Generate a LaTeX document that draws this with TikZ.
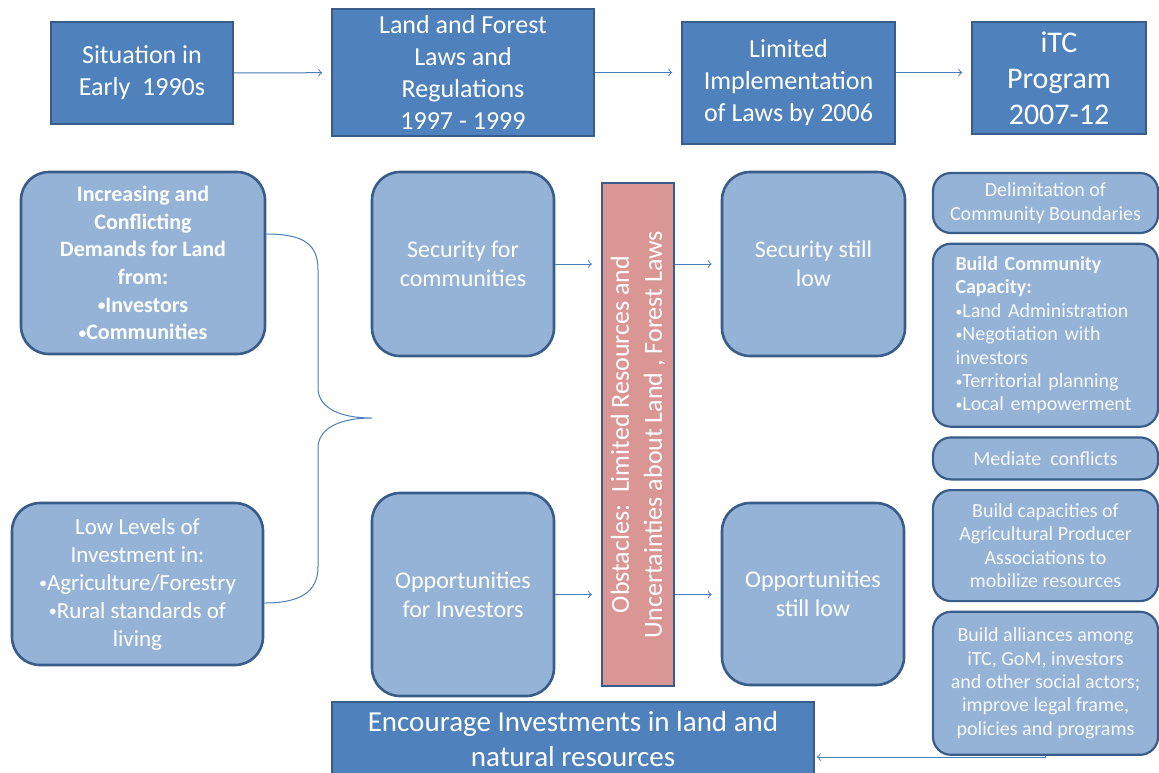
\documentclass[tikz,border=0pt]{standalone}
\usepackage{fontspec}
\setmainfont{Carlito}
\usetikzlibrary{positioning}
\definecolor{darkblue}{HTML}{4F81BD}
\definecolor{lightblue}{HTML}{95B3D7}
\definecolor{lineblue}{HTML}{385D8A}
\definecolor{arrowblue}{HTML}{4A7EBB}
\definecolor{salmon}{HTML}{D99694}
\newcommand{\bul}{\raisebox{0.12ex}{\scalebox{0.7}{•}}}
\tikzstyle{topbox} = [draw=lineblue, line width=0.8pt, fill=darkblue, text=white, align=center, font=\fontsize{13}{16}\selectfont]
\tikzstyle{roundbox} = [draw=lineblue, line width=1.3pt, fill=lightblue, text=white, rounded corners=14pt, align=center, font=\fontsize{12}{14.5}\selectfont]
\tikzstyle{sidebox} = [draw=lineblue, line width=1.1pt, fill=lightblue, text=white!92!lightblue, rounded corners=9pt, align=center, minimum width=112.5pt, font=\fontsize{10}{11.7}\selectfont]
\tikzstyle{barrier} = [draw=lineblue, line width=1.1pt, fill=salmon, text=white, align=center, rotate=90, font=\fontsize{13}{16.5}\selectfont]
\tikzstyle{link} = [->, arrowblue, line width=0.5pt, shorten >=4.5pt]

\begin{document}
\begin{tikzpicture}[x=0.5pt, y=-0.5pt]
			\useasboundingbox[fill=white] (0,0) rectangle (1159,772);
			\node[topbox, minimum width=91pt, minimum height=51pt]      at (142,73)    (situation) {Situation in\\Early\ \ 1990s};
			\node[topbox, minimum width=131pt, minimum height=61.5pt]   at (463,72.5)  (laws)      {Land and Forest\\Laws and\\Regulations\\1997 - 1999};
			\node[topbox, minimum width=106.5pt, minimum height=61pt]   at (788.5,83)  (limited)   {Limited\\Implementation\\of Laws by 2006};
			\node[topbox, minimum width=87pt, minimum height=56pt, font=\fontsize{15}{18}\selectfont] at (1059,78) (program) {iTC\\Program\\2007-12};
			\node[roundbox, minimum width=122pt, minimum height=91pt, font=\bfseries\fontsize{11}{13.8}\selectfont] at (143,263) (demand) {Increasing and\\Conflicting\\Demands for Land\\from:\\\bul Investors\\\bul Communities};
			\node[roundbox, minimum width=125.5pt, minimum height=81pt, font=\fontsize{11.5}{14}\selectfont] at (137.5,584) (lowinv) {Low Levels of\\Investment in:\\\bul Agriculture/Forestry\\\bul Rural standards of\\living};
			\node[roundbox, minimum width=91pt, minimum height=92pt]    at (463,264)   (secure)    {Security for\\communities};
			\node[roundbox, minimum width=91pt, minimum height=101.5pt] at (463,594.5) (oppor)     {Opportunities\\for Investors};
			\node[barrier, minimum width=251.5pt, minimum height=36pt]  at (638,434.5) (obstacle)  {Obstacles:\ \ Limited Resources and\\Uncertainties about Land , Forest Laws};
			\node[roundbox, minimum width=91.5pt, minimum height=92pt]  at (813.5,264) (securelow) {Security still\\low};
			\node[roundbox, minimum width=91pt, minimum height=91pt]    at (813,594)   (opporlow)  {Opportunities\\still low};
			\node[sidebox, minimum height=30pt] at (1045.5,203) (delimit) {Delimitation of\\Community Boundaries};
			\node[sidebox, minimum height=91.5pt, text width=90pt, align=left, below=4.25pt of delimit] (capacity) {\textbf{Build Community}\\\textbf{Capacity:}\\\bul Land Administration\\\bul Negotiation with\\investors\\\bul Territorial planning\\\bul Local empowerment};
			\node[sidebox, minimum height=21pt, below=4.25pt of capacity]   (mediate)  {Mediate\ \ conflicts};
			\node[sidebox, minimum height=55.5pt, below=4.25pt of mediate]  (producer) {Build capacities of\\Agricultural Producer\\Associations to\\mobilize resources};
			\node[sidebox, minimum height=71.5pt, below=4.25pt of producer] (alliance) {Build alliances among\\iTC, GoM, investors\\and other social actors;\\improve legal frame,\\policies and programs};
			\node[topbox, minimum width=241pt, minimum height=37pt, font=\fontsize{14.5}{17.5}\selectfont] at (573,739) (encourage) {Encourage Investments in land and\\natural resources};
			\coordinate (point1) at (372,418);
			\coordinate (turn) at (1045.5,757);

			\draw[link] (situation) -- (laws);
			\draw[link] (laws.east) -- (laws.east -| limited.west);
			\draw[link] (laws.east -| limited.east) -- (laws.east -| program.west);
			\draw[link] (secure.east) -- (secure.east -| obstacle.north);
			\draw[link] (secure.east -| obstacle.south) -- (secure.east -| securelow.west);
			\draw[link] (oppor.east) -- (oppor.east -| obstacle.north);
			\draw[link] (oppor.east -| obstacle.south) -- (oppor.east -| opporlow.west);
			\draw[arrowblue, line width=0.5pt] ([yshift=14.5pt]demand.east) .. controls (305,234) and (318,245) .. (318,270) -- (318,388) .. controls (318,405) and (335,418) .. (point1) .. controls (335,418) and (318,431) .. (318,448) -- (318,567) .. controls (318,592) and (300,603) .. ([yshift=-9.5pt]lowinv.east);
			\draw[arrowblue, line width=0.5pt] (alliance.south) -- (turn);
			\draw[link, shorten >=1pt] (turn) -- (turn -| encourage.east);

		\end{tikzpicture}
\end{document}
